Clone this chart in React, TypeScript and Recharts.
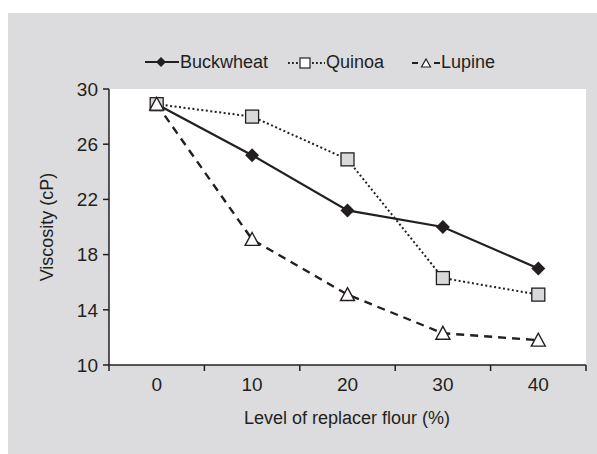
import React from "react";
import { LineChart, Line, XAxis, YAxis, CartesianGrid, Label } from "recharts";

const levels = [0, 10, 20, 30, 40];
const buckwheat = [28.9, 25.2, 21.2, 20.0, 17.0];
const quinoa = [28.9, 28.0, 24.9, 16.3, 15.1];
const lupine = [28.9, 19.1, 15.1, 12.3, 11.8];
const yTicks = [10, 14, 18, 22, 26, 30];
// centres get labels, half-steps get tick marks
const xTicks = [-5, 0, 5, 10, 15, 20, 25, 30, 35, 40, 45];

const data = levels.map((x, i) => ({
  x,
  buckwheat: buckwheat[i],
  quinoa: quinoa[i],
  lupine: lupine[i],
}));

const FONT = "'Liberation Sans', Arial, sans-serif";
const INK = "#231f20";

function Diamond({ cx, cy }: any) {
  if (cx == null || cy == null) return null;
  const d = 7;
  return <polygon points={`${cx},${cy - d} ${cx + d},${cy} ${cx},${cy + d} ${cx - d},${cy}`} fill={INK} />;
}

function Square({ cx, cy }: any) {
  if (cx == null || cy == null) return null;
  const s = 13;
  return <rect x={cx - s / 2} y={cy - s / 2} width={s} height={s} fill="#d9d9db" stroke={INK} strokeWidth={1.3} />;
}

function Triangle({ cx, cy }: any) {
  if (cx == null || cy == null) return null;
  const s = 14;
  const h = s * 0.85;
  return (
    <polygon
      points={`${cx},${cy - h / 2 - 1} ${cx + s / 2},${cy + h / 2} ${cx - s / 2},${cy + h / 2}`}
      fill="#fff"
      stroke={INK}
      strokeWidth={1.4}
    />
  );
}

function XTick({ x, y, payload }: any) {
  const v = payload.value;
  if (v % 10 === 0) {
    return (
      <text x={x} y={y + 19} textAnchor="middle" dominantBaseline="central" fill={INK} fontSize={19} fontFamily={FONT}>
        {v}
      </text>
    );
  }
  return <line x1={x} x2={x} y1={y} y2={y + 6} stroke={INK} strokeWidth={1.5} />;
}

function LegendItem({ left, icon, name }: { left: number; icon: React.ReactNode; name: string }) {
  return (
    <div style={{ position: "absolute", left, top: 50, display: "flex", alignItems: "center", height: 24 }}>
      {icon}
      <span style={{ fontFamily: FONT, fontSize: 18, color: INK, marginLeft: 1 }}>{name}</span>
    </div>
  );
}

export default function App() {
  return (
    <div style={{ position: "absolute", left: 0, top: 0, width: 597, height: 454, background: "#fff" }}>
      <div style={{ position: "absolute", left: 8, top: 13, width: 589, height: 441, background: "#dcdcde" }} />
      <div style={{ position: "absolute", left: 0, top: 0 }}>
        <LineChart width={597} height={454} data={data} margin={{ top: 89, right: 11, bottom: 0, left: 8 }}>
          <CartesianGrid fill="#fff" stroke="none" />
          <XAxis
            dataKey="x"
            type="number"
            domain={[-5, 45]}
            ticks={xTicks}
            interval={0}
            height={89}
            tickSize={0}
            tickMargin={0}
            tick={<XTick />}
            axisLine={{ stroke: INK, strokeWidth: 1.5 }}
          >
            <Label
              content={() => (
                <text x={347} y={418} textAnchor="middle" dominantBaseline="central" fill={INK} fontSize={18} fontFamily={FONT}>
                  Level of replacer flour (%)
                </text>
              )}
            />
          </XAxis>
          <XAxis xAxisId="top" orientation="top" dataKey="x" type="number" domain={[-5, 45]} height={0} tick={false} tickLine={false} axisLine={{ stroke: INK, strokeWidth: 1.5 }} />
          <YAxis
            domain={[10, 30]}
            ticks={yTicks}
            interval={0}
            width={101}
            tickSize={6}
            tickMargin={5}
            tick={{ fill: INK, fontSize: 19, fontFamily: FONT }}
            tickLine={{ stroke: INK, strokeWidth: 1.5 }}
            axisLine={{ stroke: INK, strokeWidth: 1.5 }}
          >
            <Label
              content={() => (
                <text x={47} y={227} transform="rotate(-90 47 227)" textAnchor="middle" dominantBaseline="central" fill={INK} fontSize={18} fontFamily={FONT}>
                  Viscosity (cP)
                </text>
              )}
            />
          </YAxis>
          <YAxis yAxisId="right" orientation="right" domain={[10, 30]} width={0} tick={false} tickLine={false} axisLine={{ stroke: INK, strokeWidth: 1.5 }} />
          <Line dataKey="buckwheat" stroke={INK} strokeWidth={2.2} dot={<Diamond />} isAnimationActive={false} />
          <Line dataKey="quinoa" stroke={INK} strokeWidth={2} strokeDasharray="2 2.5" dot={<Square />} isAnimationActive={false} />
          <Line dataKey="lupine" stroke={INK} strokeWidth={2.4} strokeDasharray="8 6" dot={<Triangle />} isAnimationActive={false} />
        </LineChart>
      </div>
      <LegendItem
        left={145}
        name="Buckwheat"
        icon={
          <svg width={34} height={14}>
            <line x1={0} x2={34} y1={7} y2={7} stroke={INK} strokeWidth={2} />
            <polygon points="16,2 21,7 16,12 11,7" fill={INK} />
          </svg>
        }
      />
      <LegendItem
        left={288}
        name="Quinoa"
        icon={
          <svg width={37} height={14}>
            <line x1={0} x2={37} y1={8} y2={8} stroke={INK} strokeWidth={1.8} strokeDasharray="1.8 2.2" />
            <rect x={12} y={3} width={10} height={10} fill="#fff" stroke={INK} strokeWidth={1.2} />
          </svg>
        }
      />
      <LegendItem
        left={412}
        name="Lupine"
        icon={
          <svg width={28} height={14}>
            <line x1={0} x2={6} y1={8} y2={8} stroke={INK} strokeWidth={2} />
            <line x1={22} x2={28} y1={8} y2={8} stroke={INK} strokeWidth={2} />
            <polygon points="14,4 18.5,12 9.5,12" fill="#fff" stroke={INK} strokeWidth={1.2} />
          </svg>
        }
      />
    </div>
  );
}
